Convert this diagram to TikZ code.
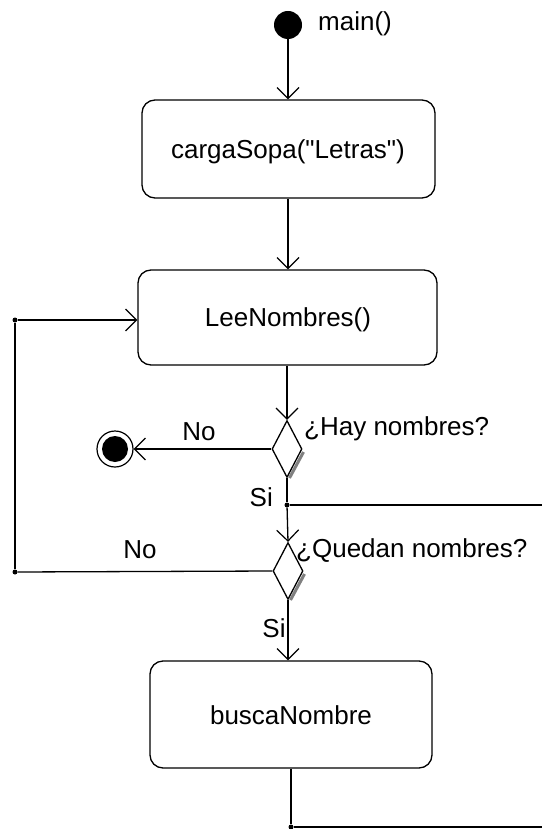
\documentclass[tikz,border=0pt]{standalone}
\usepackage{fontspec}
\setmainfont{Liberation Sans}
\newfontfamily\libsans{Liberation Sans}
\usetikzlibrary{arrows.meta,shapes.geometric}
\begin{document}
\begin{tikzpicture}[x=1pt,y=-1pt,
  every node/.style={font=\libsans\fontsize{26}{31}\selectfont},
  ln/.style={line width=1.3pt,black},
  arr/.style={ln,-{Straight Barb[length=11pt,width=22pt,line width=1.2pt]}},
  act/.style={draw,line width=1.3pt,rounded corners=13pt,inner sep=0pt},
  dec/.style={draw,shape=diamond,line width=1.3pt,inner sep=0pt,aspect=0.53,minimum width=30pt,minimum height=57pt},
  dot/.style={circle,fill=black,inner sep=0pt,minimum size=5pt},
  lbl/.style={inner sep=0pt}]
\useasboundingbox (0,0) rectangle (542,829);
% start
\node[circle,fill=black,inner sep=0pt,minimum size=28pt] (start) at (288,25) {};
\node[lbl,anchor=west] (tmain) at (318,24) {main()};
% activities
\node[act,minimum width=293pt,minimum height=98pt] (b1) at (288.5,149) {};
\node[lbl] (t1) at (288,152) {cargaSopa("Letras")};
\node[act,minimum width=299pt,minimum height=95pt] (b2) at (287.5,317.5) {};
\node[lbl] (t2) at (288,320) {LeeNombres()};
\node[act,minimum width=282pt,minimum height=107pt] (b3) at (291,714.5) {};
\node[lbl] (t3) at (291,715) {buscaNombre};
% decisions (shadows first)
\coordinate (d1c) at (287,449);
\coordinate (d2c) at (288,571);
\draw[gray,line width=3pt] (303.5,452) -- (289.5,478);
\draw[gray,line width=3pt] (304.5,574) -- (290.5,600);
\node[dec,fill=white] (d1) at (d1c) {};
\node[dec,fill=white] (d2) at (d2c) {};
\node[lbl,anchor=west] (th) at (304,429) {¿Hay nombres?};
\node[lbl,anchor=west] (tq) at (296,551) {¿Quedan nombres?};
% final
\node[circle,draw,line width=1.2pt,inner sep=0pt,minimum size=36pt] (endo) at (115,449) {};
\node[circle,fill=black,inner sep=0pt,minimum size=26pt] (endi) at (115,449) {};
% junctions
\node[dot] (J) at (287,505) {};
\coordinate (R) at (542,505);
\node[dot] (L2) at (15,572) {};
\node[dot] (L1) at (15,320) {};
\node[dot] (B) at (291,827) {};
\coordinate (BR) at (542,827);
% labels
\node[lbl] (no1) at (199,432) {No};
\node[lbl,anchor=east] (si1) at (273,497) {Si};
\node[lbl] (no2) at (140,550) {No};
\node[lbl] (si2) at (274,628) {Si};
% connectors
\draw[arr] (start) -- (start |- b1.north);
\draw[arr] (b1.south -| start) -- (b2.north -| start);
\draw[arr] (b2.south -| d1) -- (d1.north);
\draw[arr] (d1.west) -- (endo.east);
\draw[ln] (d1.south) -- (J);
\draw[ln] (J) -- (R);
\draw[arr] (J) -- (d2.north);
\draw[ln] (d2.west) -- (L2);
\draw[ln] (L2) -- (L1);
\draw[arr] (L1) -- (b2.west |- L1);
\draw[arr] (d2.south) -- (d2.south |- b3.north);
\draw[ln] (b3.south -| B) -- (B);
\draw[ln] (B) -- (BR);
\end{tikzpicture}
\end{document}
